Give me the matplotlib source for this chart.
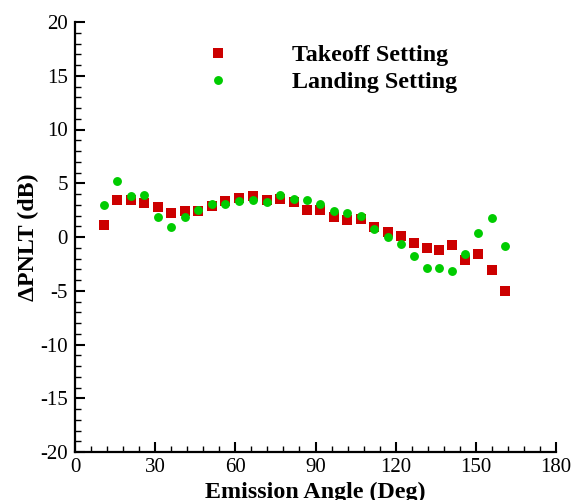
import matplotlib
matplotlib.use("Agg")
import matplotlib.pyplot as plt
from matplotlib.ticker import MultipleLocator

plt.rcParams['font.family'] = ['Liberation Serif', 'DejaVu Serif']
plt.rcParams['axes.unicode_minus'] = False

# Emission angles (deg)
angles = [10.8, 15.7, 20.8, 26.0, 30.9, 36.1, 41.3, 46.2, 51.3, 56.2, 61.3,
          66.5, 71.7, 76.6, 81.8, 87.0, 91.8, 97.0, 101.9, 107.1, 111.9,
          117.1, 121.9, 126.8, 131.6, 136.4, 141.2, 146.0, 150.8, 155.9, 160.8]

# Delta PNLT (dB)
takeoff = [1.15, 3.46, 3.40, 3.18, 2.81, 2.26, 2.44, 2.38, 2.90, 3.33, 3.65,
           3.86, 3.40, 3.49, 3.28, 2.54, 2.54, 1.89, 1.61, 1.64, 0.96,
           0.50, 0.13, -0.60, -1.05, -1.17, -0.70, -2.10, -1.54, -3.11, -5.06]
landing = [3.00, 5.25, 3.83, 3.95, 1.82, 0.96, 1.85, 2.50, 3.09, 3.09, 3.33,
           3.40, 3.28, 3.92, 3.52, 3.43, 3.03, 2.41, 2.22, 1.98, 0.74,
           0.00, -0.68, -1.76, -2.87, -2.87, -3.20, -1.60, 0.34, 1.80, -0.80]

series_labels = ["Takeoff Setting", "Landing Setting"]
red = "#cc0000"
green = "#00cc00"

fig = plt.figure(figsize=(5.78, 5.0), dpi=100)
ax = fig.add_axes([75 / 578, 1 - 452 / 500, (556 - 75) / 578, (452 - 22) / 500])

ax.plot(angles, takeoff, linestyle="none", marker="s", markersize=6.6,
        color=red, markeredgewidth=0, label=series_labels[0], zorder=3)
ax.plot(angles, landing, linestyle="none", marker="o", markersize=6.4,
        color=green, markeredgewidth=0, label=series_labels[1], zorder=4)

ax.set_xlim(0, 180)
ax.set_ylim(-20, 20)
ax.xaxis.set_major_locator(MultipleLocator(30))
ax.xaxis.set_minor_locator(MultipleLocator(6))
ax.yaxis.set_major_locator(MultipleLocator(5))
ax.yaxis.set_minor_locator(MultipleLocator(1))

for side in ("top", "right"):
    ax.spines[side].set_visible(False)
for side in ("left", "bottom"):
    ax.spines[side].set_linewidth(1.6)

ax.tick_params(which="major", direction="in", length=7, width=1.5,
               labelsize=15, top=False, right=False)
ax.tick_params(which="minor", direction="in", length=4, width=1.0,
               top=False, right=False)
ax.tick_params(axis="y", which="major", pad=5)
ax.tick_params(axis="x", which="major", pad=4)

ax.set_xlabel("Emission Angle (Deg)", fontsize=17.3, fontweight="bold", labelpad=4)
ax.set_ylabel("\u0394PNLT (dB)", fontsize=17.3, fontweight="bold", labelpad=1)

ax.legend(loc="upper left", bbox_to_anchor=(206 / 578, 1 - 44.5 / 500),
          bbox_transform=fig.transFigure, frameon=False,
          prop={"weight": "bold", "size": 17.3}, handlelength=1.0,
          handletextpad=2.58, borderpad=0, borderaxespad=0,
          labelspacing=0.22, numpoints=1)

fig.savefig("out.png", dpi=100)
